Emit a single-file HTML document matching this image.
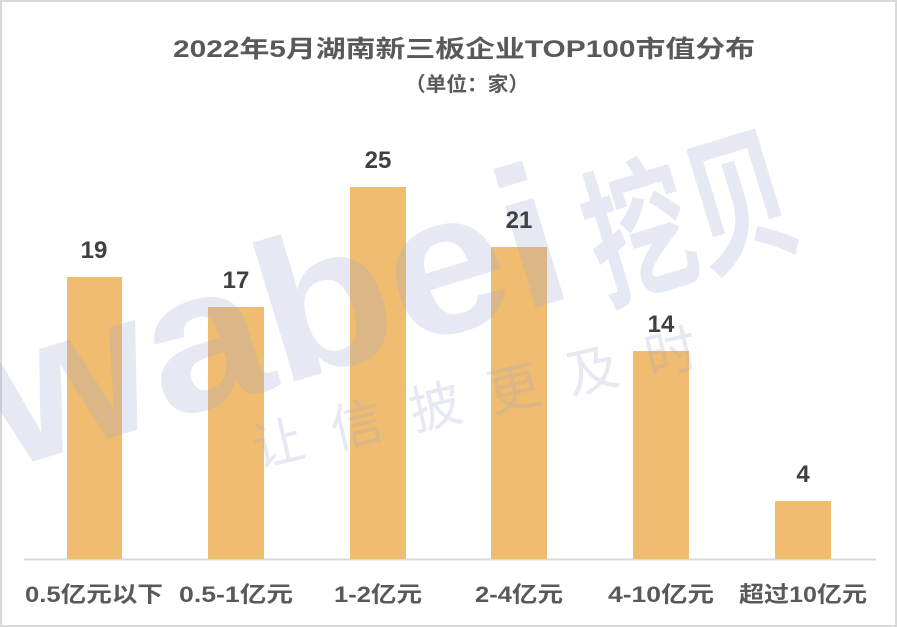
<!DOCTYPE html>
<html><head><meta charset="utf-8"><style>
html,body{margin:0;padding:0;background:#fff}
svg{display:block}
</style></head><body>
<svg width="897" height="627" viewBox="0 0 897 627" xmlns="http://www.w3.org/2000/svg" font-family="'Liberation Sans','Noto Sans CJK SC',sans-serif">
<rect x="1" y="1" width="895" height="625" fill="#fff" stroke="#d9d9d9" stroke-width="2"/>
<text x="464" y="57" text-anchor="middle" font-size="24" font-weight="bold" fill="#595959" textLength="582" lengthAdjust="spacingAndGlyphs">2022年5月湖南新三板企业TOP100市值分布</text>
<text x="467" y="91" text-anchor="middle" font-size="20" font-weight="bold" fill="#595959" textLength="124" lengthAdjust="spacingAndGlyphs">（单位：家）</text>
<line x1="24" y1="559.5" x2="876" y2="559.5" stroke="#d9d9d9" stroke-width="2"/>
<g fill="#f0bc6f">
<rect x="67" y="277" width="55" height="282"/>
<rect x="208" y="307" width="56" height="252"/>
<rect x="350" y="187" width="56" height="372"/>
<rect x="491" y="247" width="56" height="312"/>
<rect x="633" y="351" width="56" height="208"/>
<rect x="775" y="501" width="56" height="58"/>
</g>
<g fill="#9aa3cf" fill-opacity="0.25" font-weight="bold">
<text x="5" y="470" font-size="200" transform="rotate(-17 5 470)" textLength="600" lengthAdjust="spacingAndGlyphs">wabei</text>
<text x="605" y="300" font-size="150" transform="rotate(-17 605 300)" textLength="210" lengthAdjust="spacingAndGlyphs">挖贝</text>
<text x="257" y="467" font-size="52" font-weight="normal" transform="rotate(-13 257 467)" textLength="455" lengthAdjust="spacing">让信披更及时</text>
</g>
<g font-size="24" font-weight="bold" fill="#404040" text-anchor="middle">
<text x="94" y="258">19</text>
<text x="236" y="288">17</text>
<text x="378" y="168">25</text>
<text x="519" y="228">21</text>
<text x="661" y="332">14</text>
<text x="803" y="482">4</text>
</g>
<g font-size="22" font-weight="bold" fill="#595959" text-anchor="middle">
<text x="94" y="602" textLength="138" lengthAdjust="spacingAndGlyphs">0.5亿元以下</text>
<text x="236" y="602" textLength="114" lengthAdjust="spacingAndGlyphs">0.5-1亿元</text>
<text x="378" y="602" textLength="88" lengthAdjust="spacingAndGlyphs">1-2亿元</text>
<text x="519" y="602" textLength="88" lengthAdjust="spacingAndGlyphs">2-4亿元</text>
<text x="661" y="602" textLength="106" lengthAdjust="spacingAndGlyphs">4-10亿元</text>
<text x="803" y="602" textLength="128" lengthAdjust="spacingAndGlyphs">超过10亿元</text>
</g>
</svg>
</body></html>
